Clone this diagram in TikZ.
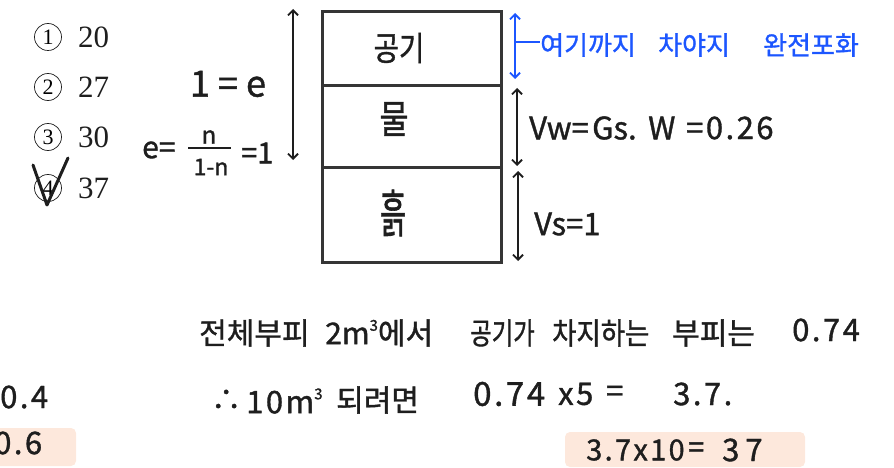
\documentclass[tikz,border=0pt]{standalone}
\usepackage{fontspec}
\setmainfont{Liberation Serif}
\newfontfamily\hw{Noto Sans CJK KR}[FakeBold=1.2]
\newfontfamily\hwn{Noto Sans CJK KR}[FakeBold=1.2,LetterSpace=8]
\usetikzlibrary{arrows.meta}
\definecolor{pen}{RGB}{30,30,30}
\definecolor{bluepen}{RGB}{28,86,255}
\definecolor{hl}{RGB}{253,232,220}
\newcommand{\sz}[1]{\fontsize{#1}{#1}\selectfont}
\newcommand{\cub}{\raisebox{0.45em}{\sz{15}3}}
\begin{document}
\begin{tikzpicture}[x=1pt,y=-1pt,
  txt/.style={inner sep=0pt, text=pen},
  hwk/.style={txt, font=\hw\sz{30}, anchor=west},
  hwd/.style={txt, font=\hwn\sz{31}, anchor=west},
  circ/.style={circle, draw=pen, line width=0.7pt, minimum size=27pt, inner sep=0pt, font=\sz{22}},
  opt/.style={txt, font=\sz{31}, anchor=west},
  cell/.style={draw=pen!90, line width=3pt, minimum width=179pt, inner sep=0pt},
  arr/.style={draw=pen, line width=1.8pt, line cap=round, {Straight Barb[length=5pt,width=10pt]}-{Straight Barb[length=5pt,width=10pt]}},
  barr/.style={arr, draw=bluepen},
  lab/.style={txt, font=\hw\sz{30}}]
\useasboundingbox (0,0) rectangle (894,468);
\clip (0,0) rectangle (894,468);

% highlights
\fill[hl, rounded corners=5pt] (-10,428) rectangle (76,466);
\fill[hl, rounded corners=5pt] (565,432) rectangle (805,467);

% answer options
\foreach \i/\y/\v in {1/37/20,2/87/27,3/137/30,4/188/37} {
  \node[circ] (c\i) at (48,\y) {\i};
  \node[opt] (v\i) at (78,\y) {\v};
}
\draw[pen, line width=3pt, line cap=round, line join=round] (33,165) -- (47,205) -- (68,158);

% box
\node[cell, minimum height=74pt] (air) at (411.5,49) {};
\node[cell, minimum height=81pt] (water) at (411.5,126.5) {};
\node[cell, minimum height=95pt] (soil) at (411.5,214.5) {};
\node[lab, font=\hw\sz{29}] (tair) at (399,48) {\scalebox{0.95}[1.15]{공기}};
\node[lab] (twater) at (394,119) {\scalebox{1.05}[1.3]{물}};
\node[lab] (tsoil) at (393,213) {\scalebox{0.95}[1.7]{흙}};

% left arrow and e
\coordinate (l1) at (293,9);
\coordinate (l2) at (293,160);
\draw[arr] (l1) -- (l2);
\node[txt, font=\hw\sz{36}] (one) at (228,84) {1 = e};
\node[txt, font=\hw\sz{30}, anchor=west] (eeq) at (142,150) {e=};
\node[txt, font=\hw\sz{24}] (num) at (209,137) {n};
\node[txt, font=\hw\sz{23}] (den) at (211,167) {1-n};
\coordinate (b1) at (188,148);
\coordinate (b2) at (231,148);
\draw[pen, line width=2pt] (b1) -- (b2);
\node[txt, font=\hw\sz{29}, anchor=west] (eone) at (241,153) {=1};

% right arrows
\coordinate (u1) at (515,13);
\coordinate (u2) at (515,79);
\draw[barr] (u1) -- (u2);
\coordinate (u3) at (515,42);
\node[txt, text=bluepen, font=\hw\sz{26}, anchor=west] (bt1) at (540,45) {여기까지};
\node[txt, text=bluepen, font=\hw\sz{26}, anchor=west] (bt2) at (658,45) {차야지};
\node[txt, text=bluepen, font=\hw\sz{26}, anchor=west] (bt3) at (763,45) {완전포화};
\draw[bluepen, line width=1.8pt] (u3) -- (bt1.west |- u3);

\coordinate (w1) at (517,88);
\coordinate (w2) at (517,166);
\draw[arr] (w1) -- (w2);
\coordinate (s1) at (518,171);
\coordinate (s2) at (518,261);
\draw[arr] (s1) -- (s2);
\node[txt, font=\hw\sz{31}, anchor=west] (vw1) at (529,128) {Vw=};
\node[txt, font=\hw\sz{31}, anchor=west] (vw2) at (592,128) {Gs.};
\node[txt, font=\hw\sz{31}, anchor=west] (vw3) at (648,128) {W};
\node[txt, font=\hwn\sz{31}, anchor=west] (vw4) at (686,128) {=0.26};
\node[txt, font=\hw\sz{31}, anchor=west] (vs) at (534,224) {Vs=1};

% bottom lines
\node[hwk] (a1) at (199,333) {전체부피};
\node[hwk] (a2) at (325,333) {2m\cub 에서};
\node[hwk] (a3) at (470,333) {\scalebox{0.78}[1]{공기가}};
\node[hwk] (a4) at (552,333) {\scalebox{0.88}[1]{차지하는}};
\node[hwk] (a5) at (672,333) {부피는};
\node[hwd] (a6) at (792,330) {0.74};

\node[hwk] (b1t) at (211,400) {∴};
\node[hwd] (b2t) at (246,401) {10m\cub};
\node[hwk] (b3t) at (336,400) {되려면};
\node[hwd, font=\hwn\sz{33}] (b4t) at (473,394) {0.74};
\node[hwd] (b5t) at (558,394) {x5};
\node[hwd] (b6t) at (606,394) {=};
\node[hwd] (b7t) at (673,394) {3.7.};

\node[hwd, font=\hwn\sz{29}] (c1t) at (586,450) {3.7x10};
\node[hwd, font=\hwn\sz{29}] (c2t) at (688,450) {=};
\node[hwd, font=\hwn\sz{31}] (c3t) at (722,450) {3\hspace{6pt}7};

\node[hwd] (l04) at (0,397) {0.4};
\node[hwd] (l06) at (-6,443) {0.6};
\end{tikzpicture}
\end{document}
